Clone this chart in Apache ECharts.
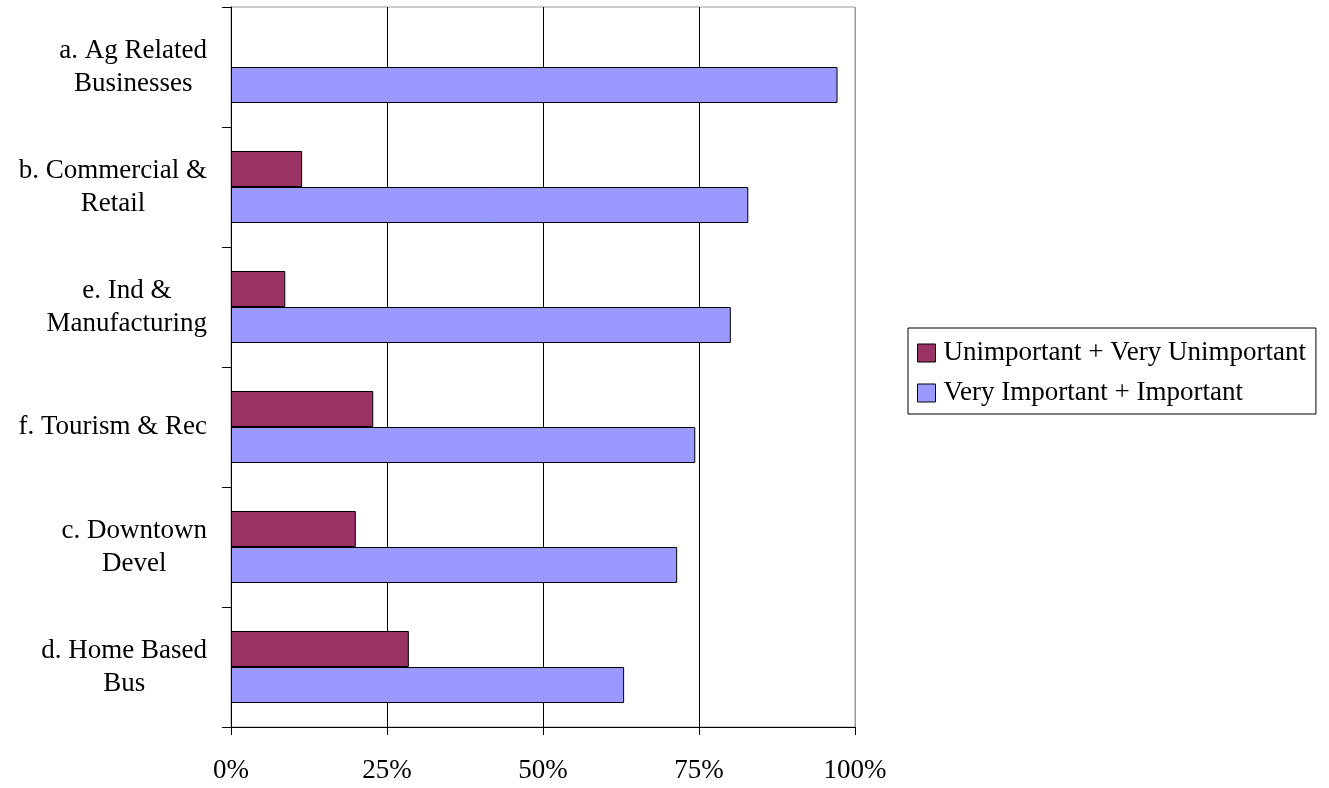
<!DOCTYPE html>
<html>
<head>
<meta charset="utf-8">
<script src="https://cdn.jsdelivr.net/npm/echarts@6/dist/echarts.min.js"></script>
<style>
	html, body { margin: 0; padding: 0; background: #fff; }
	#chart { width: 1329px; height: 788px; }
</style>
</head>
<body>
<div id="chart"></div>
<script>
var categories = ['a. Ag Related\nBusinesses', 'b. Commercial &\nRetail', 'e. Ind &\nManufacturing', 'f. Tourism & Rec', 'c. Downtown\nDevel', 'd. Home Based\nBus'];
var unimportant = [0, 11.4, 8.7, 22.8, 20.0, 28.5];
var important = [97.2, 82.9, 80.1, 74.4, 71.5, 63.0];
var seriesNames = ['Unimportant + Very Unimportant', 'Very Important + Important'];
var xTicks = [0, 25, 50, 75, 100];

var font = '"Liberation Serif", "Times New Roman", serif';

// zero-length bars get no outline (Excel draws nothing there)
function barData(list) {
	return list.map(function(v) {
		if(v === 0) {
			return { value: v, itemStyle: { borderWidth: 0 } };
		}
		return v;
	});
}

var chart = echarts.init(document.getElementById('chart'));

var option = {
	animation: false,
	backgroundColor: '#fff',
	textStyle: { fontFamily: font },
	grid: {
		left: 231,
		right: 474,
		top: 7,
		bottom: 61,
		show: true,
		borderColor: '#999',
		borderWidth: 1,
		backgroundColor: 'transparent'
	},
	legend: {
		orient: 'vertical',
		left: 908,
		top: 328,
		padding: [10, 10, 6, 9],
		itemGap: 10,
		itemWidth: 18,
		itemHeight: 18,
		icon: 'rect',
		borderColor: '#000',
		borderWidth: 1,
		itemStyle: { borderColor: '#000', borderWidth: 1 },
		textStyle: { fontFamily: font, fontSize: 27, color: '#000', lineHeight: 30, padding: [0, 0, 0, 3] },
		data: seriesNames
	},
	xAxis: {
		type: 'value',
		min: xTicks[0],
		max: xTicks[xTicks.length - 1],
		interval: 25,
		axisLine: { show: true, lineStyle: { color: '#000', width: 1 } },
		axisTick: { show: true, length: 8, lineStyle: { color: '#000' } },
		axisLabel: {
			margin: 30,
			fontFamily: font,
			fontSize: 27,
			color: '#000',
			formatter: function(v) { return v + '%'; }
		},
		splitLine: { show: true, lineStyle: { color: ['#000', '#000', '#000', '#000', '#999'], width: 1 } }
	},
	yAxis: {
		type: 'category',
		inverse: true,
		data: categories,
		axisLine: { show: true, lineStyle: { color: '#000', width: 1 } },
		axisTick: { show: true, length: 9, lineStyle: { color: '#000' } },
		axisLabel: {
			margin: 24,
			align: 'right',
			fontFamily: font,
			fontSize: 27,
			color: '#000',
			lineHeight: 33,
			formatter: function(v) {
				return v.split('\n').map(function(l) { return '{c|' + l + '}'; }).join('\n');
			},
			rich: {
				c: { align: 'center', fontFamily: font, fontSize: 27, color: '#000', lineHeight: 33 }
			}
		},
		splitLine: { show: false }
	},
	series: [{
		name: seriesNames[0],
		type: 'bar',
		data: barData(unimportant),
		barGap: '0%',
		barCategoryGap: '40%',
		itemStyle: { color: '#993366', borderColor: '#000', borderWidth: 1 }
	}, {
		name: seriesNames[1],
		type: 'bar',
		data: barData(important),
		barGap: '0%',
		barCategoryGap: '40%',
		itemStyle: { color: '#9999FF', borderColor: '#000', borderWidth: 1 }
	}]
};

chart.setOption(option);
</script>
</body>
</html>
